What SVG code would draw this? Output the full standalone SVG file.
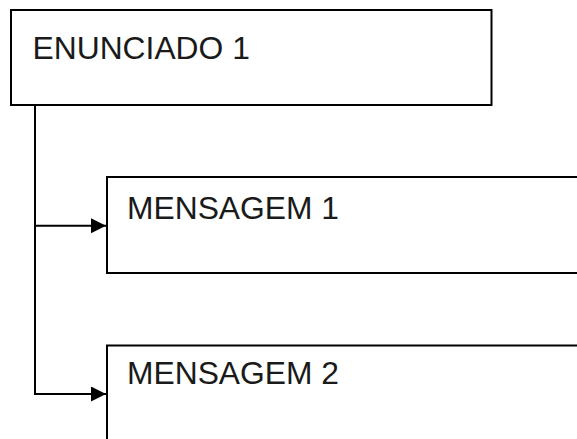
<svg xmlns="http://www.w3.org/2000/svg" width="577" height="439" viewBox="0 0 577 439">
<style>
.box{fill:#fff;stroke:#000;stroke-width:2}
.lbl{font-family:"Liberation Sans",Arial,sans-serif;font-size:31.8px;fill:#1a1a1a}
.conn{fill:none;stroke:#000;stroke-width:2}
</style>
<defs>
<marker id="ah" markerUnits="userSpaceOnUse" markerWidth="16" markerHeight="16" refX="15" refY="7.5" orient="auto">
<path d="M0,0 L15,7.5 L0,15 Z" fill="#000"/>
</marker>
</defs>
<rect width="577" height="439" fill="#fff"/>
<g id="enunciado1">
<rect class="box" x="11" y="10" width="480.5" height="95"/>
<text class="lbl" x="32.5" y="58.5">ENUNCIADO 1</text>
</g>
<g id="mensagem1">
<rect class="box" x="107" y="177" width="480" height="96"/>
<text class="lbl" x="127" y="218.5">MENSAGEM 1</text>
</g>
<g id="mensagem2">
<rect class="box" x="107" y="345.5" width="480" height="110"/>
<text class="lbl" x="127" y="384">MENSAGEM 2</text>
</g>
<g id="connectors">
<path class="conn" d="M35,105 L35,394 L106,394" marker-end="url(#ah)"/>
<path class="conn" d="M35,225.7 L106,225.7" marker-end="url(#ah)"/>
</g>
</svg>
